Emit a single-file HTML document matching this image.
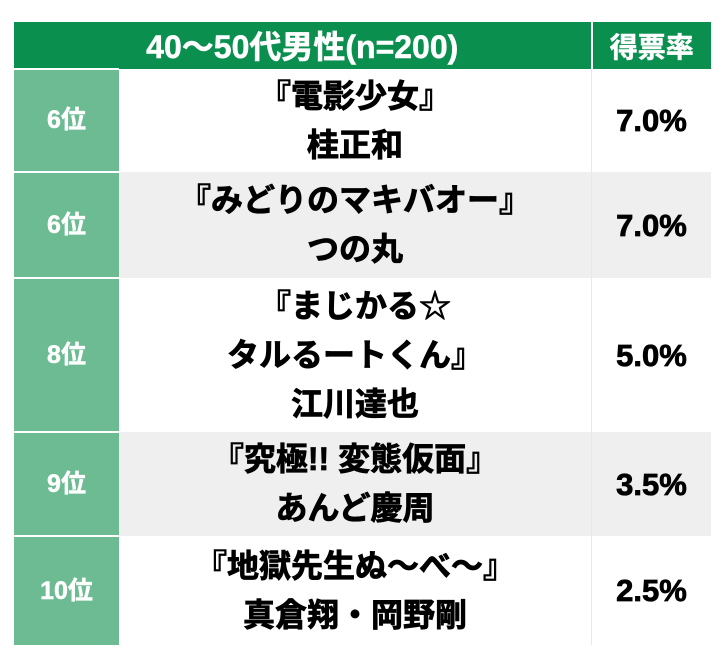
<!DOCTYPE html><html><head><meta charset="utf-8"><style>
body{margin:0;width:728px;height:657px;background:#fff;font-family:"Liberation Sans","Noto Sans CJK JP",sans-serif;font-weight:bold}
table{position:absolute;left:14px;top:22px;border-collapse:collapse;width:697px}
td{padding:0;text-align:center;vertical-align:middle}
.h td{background:#0a8f4f;color:#fff;font-size:32px;height:45px;-webkit-text-stroke:0.5px #fff}
.h td+td{border-left:2px solid #fff;font-size:28px}
.r td{font-size:32px;line-height:49px;color:#000;-webkit-text-stroke:0.8px #000}
.r td:first-child{background:#6dbb93;color:#fff;-webkit-text-stroke:0.5px #fff;font-size:25px;width:105px;border-top:2px solid #fff}
.r td:nth-child(2){width:472px}
.r td:nth-child(3){border-left:1px solid #e8e8e8;font-size:31px}
.g td:nth-child(2),.g td:nth-child(3){background:#efefef}
</style></head><body><table>
<tr class="h"><td colspan="2">40〜50代男性(n=200)</td><td>得票率</td></tr>
<tr class="r" style="height:103px"><td>6位</td><td>『電影少女』<br>桂正和</td><td>7.0%</td></tr>
<tr class="r g" style="height:106px"><td>6位</td><td>『みどりのマキバオー』<br>つの丸</td><td>7.0%</td></tr>
<tr class="r" style="height:154px"><td>8位</td><td>『まじかる☆<br>タルるートくん』<br>江川達也</td><td>5.0%</td></tr>
<tr class="r g" style="height:104px"><td>9位</td><td>『究極!! 変態仮面』<br>あんど慶周</td><td>3.5%</td></tr>
<tr class="r" style="height:109px"><td>10位</td><td>『地獄先生ぬ〜べ〜』<br>真倉翔・岡野剛</td><td>2.5%</td></tr>
</table></body></html>
